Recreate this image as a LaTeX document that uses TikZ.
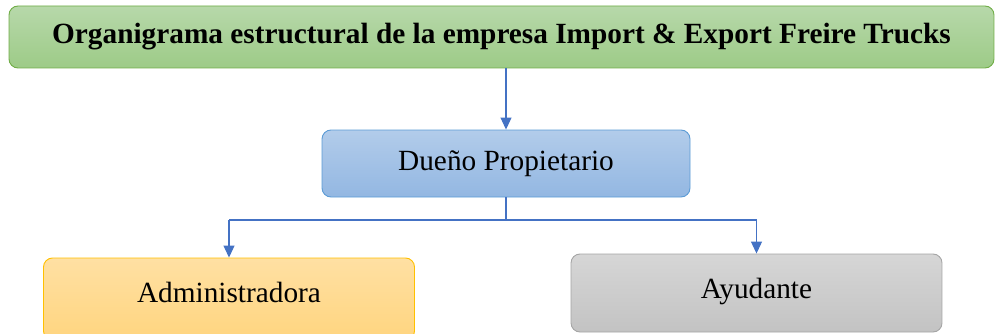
\documentclass[tikz,border=0pt]{standalone}
\usepackage{fontspec}
\setmainfont{Liberation Serif}
\usetikzlibrary{arrows.meta}
\definecolor{conn}{HTML}{4472C4}
\definecolor{gTop}{HTML}{B7D8AA}
\definecolor{gBot}{HTML}{9DCB87}
\definecolor{gBrd}{HTML}{70AD47}
\definecolor{bTop}{HTML}{B2CCEA}
\definecolor{bBot}{HTML}{93B7E2}
\definecolor{bBrd}{HTML}{5B9BD5}
\definecolor{oTop}{HTML}{FFE0A3}
\definecolor{oBot}{HTML}{FFD57F}
\definecolor{oBrd}{HTML}{FFC000}
\definecolor{sTop}{HTML}{D6D6D6}
\definecolor{sBot}{HTML}{C3C3C3}
\definecolor{sBrd}{HTML}{A5A5A5}
\tikzset{
  box/.style={rounded corners=9pt, line width=0.9pt, inner sep=0pt, align=center,
    font=\fontsize{29.3}{33}\selectfont, text height=20pt, text depth=7pt},
  conline/.style={draw=conn, line width=1.1pt},
  arr/.style={conline, -{Triangle[width=11pt,length=12pt]}},
}
\begin{document}
\begin{tikzpicture}[x=1pt,y=-1pt]
\useasboundingbox (0,0) rectangle (995,334);
\node[box, draw=gBrd, top color=gTop, bottom color=gBot, minimum width=985pt, minimum height=62pt,
  font=\fontsize{29.3}{33}\selectfont\bfseries, text height=20pt, text depth=6pt]
  (banner) at (501.5,37) {Organigrama estructural de la empresa Import \& Export Freire Trucks};
\node[box, draw=bBrd, top color=bTop, bottom color=bBot, minimum width=368pt, minimum height=67pt]
  (dueno) at (506,163.5) {Dueño Propietario};
\node[box, draw=oBrd, top color=oTop, bottom color=oBot, minimum width=371pt, minimum height=82pt, text depth=13pt]
  (admin) at (229,299) {Administradora};
\node[box, draw=sBrd, top color=sTop, bottom color=sBot, minimum width=371pt, minimum height=78pt, text depth=10pt]
  (ayud) at (756.5,293) {Ayudante};
\coordinate (bus) at (0,220);
\draw[arr] (banner.south -| dueno.north) -- (dueno.north);
\draw[conline] (dueno.south) -- (dueno.south |- bus);
\draw[conline] (admin.north |- bus) -- (ayud.north |- bus);
\draw[arr] (admin.north |- bus) -- (admin.north);
\draw[arr] (ayud.north |- bus) -- (ayud.north);
\end{tikzpicture}
\end{document}
